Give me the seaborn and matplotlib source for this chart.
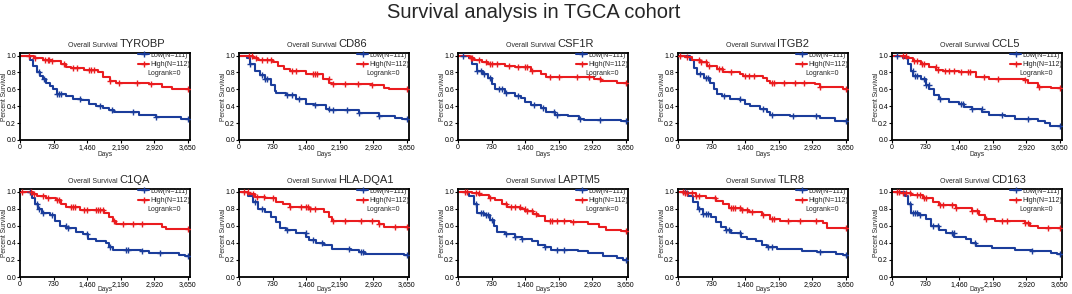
import numpy as np
import pandas as pd
import matplotlib
matplotlib.use("Agg")
import matplotlib.pyplot as plt
import seaborn as sns
from matplotlib.lines import Line2D

GENES = ["TYROBP", "CD86", "CSF1R", "ITGB2", "CCL5",
         "C1QA", "HLA-DQA1", "LAPTM5", "TLR8", "CD163"]
X_TICKS = [0, 730, 1460, 2190, 2920, 3650]
X_TICK_LABELS = ["0", "730", "1,460", "2,190", "2,920", "3,650"]
Y_TICKS = [0.0, 0.2, 0.4, 0.6, 0.8, 1.0]
Y_TICK_LABELS = ["0.0", "0.2", "0.4", "0.6", "0.8", "1.0"]
LOW_LABEL = "Low(N=111)"
HIGH_LABEL = "High(N=112)"
LOGRANK_LABEL = "Logrank=0"
MAIN_TITLE = "Survival analysis in TGCA cohort"
END_DAY = 3650

# event times (days) and survival after each event
LOW_T = {
    "TYROBP": [216, 290, 360, 430, 500, 576, 650, 720, 800, 1000, 1150, 1330, 1500, 1650, 1800, 1940, 2050, 2590, 2950, 3500],
    "CD86": [165, 237, 345, 452, 560, 704, 776, 812, 1027, 1243, 1458, 1638, 1890, 1962, 2610, 3040, 3400, 3540],
    "CSF1R": [230, 302, 410, 554, 662, 734, 806, 1022, 1238, 1382, 1454, 1598, 1814, 1922, 2102, 2390, 2642, 2750, 3540],
    "ITGB2": [267, 340, 412, 556, 701, 773, 846, 954, 1135, 1352, 1460, 1568, 1785, 1930, 2002, 2436, 3087, 3412, 3600],
    "CCL5": [237, 345, 417, 452, 632, 740, 812, 920, 1028, 1243, 1458, 1566, 1746, 1962, 2105, 2465, 2680, 3183, 3327, 3435],
    "C1QA": [252, 324, 396, 468, 648, 756, 864, 1008, 1224, 1368, 1476, 1656, 1872, 1944, 2016, 2628, 2808, 3456, 3600],
    "HLA-DQA1": [201, 309, 417, 560, 704, 812, 884, 1028, 1243, 1458, 1530, 1674, 1854, 2034, 2430, 2608, 2752, 3600],
    "LAPTM5": [237, 345, 417, 560, 704, 776, 848, 1028, 1243, 1387, 1602, 1746, 1890, 2034, 2608, 2824, 3148, 3471, 3600],
    "TLR8": [216, 323, 431, 539, 718, 826, 934, 1042, 1150, 1365, 1509, 1688, 1832, 1940, 2155, 2694, 3018, 3449, 3600],
    "CD163": [273, 345, 417, 596, 740, 848, 1027, 1171, 1351, 1602, 1710, 1818, 2177, 2680, 3040, 3471, 3600],
}
LOW_S = {
    "TYROBP": [0.95, 0.88, 0.80, 0.76, 0.72, 0.68, 0.64, 0.60, 0.55, 0.52, 0.49, 0.47, 0.43, 0.40, 0.38, 0.36, 0.33, 0.30, 0.27, 0.25],
    "CD86": [0.97, 0.90, 0.82, 0.77, 0.72, 0.65, 0.58, 0.56, 0.53, 0.48, 0.43, 0.41, 0.37, 0.35, 0.32, 0.29, 0.26, 0.25],
    "CSF1R": [0.97, 0.90, 0.82, 0.78, 0.73, 0.66, 0.60, 0.56, 0.52, 0.50, 0.45, 0.41, 0.38, 0.33, 0.30, 0.28, 0.25, 0.24, 0.22],
    "ITGB2": [0.95, 0.85, 0.78, 0.73, 0.68, 0.60, 0.55, 0.52, 0.49, 0.47, 0.43, 0.40, 0.37, 0.33, 0.30, 0.28, 0.26, 0.23, 0.22],
    "CCL5": [0.97, 0.90, 0.82, 0.76, 0.72, 0.65, 0.60, 0.53, 0.48, 0.45, 0.43, 0.39, 0.37, 0.33, 0.30, 0.28, 0.25, 0.23, 0.20, 0.17],
    "C1QA": [0.93, 0.86, 0.80, 0.75, 0.72, 0.66, 0.60, 0.57, 0.53, 0.50, 0.45, 0.42, 0.40, 0.35, 0.32, 0.30, 0.28, 0.26, 0.24],
    "HLA-DQA1": [0.95, 0.88, 0.80, 0.76, 0.70, 0.64, 0.57, 0.55, 0.51, 0.47, 0.43, 0.40, 0.37, 0.33, 0.32, 0.29, 0.27, 0.26],
    "LAPTM5": [0.95, 0.85, 0.75, 0.72, 0.67, 0.60, 0.53, 0.50, 0.47, 0.44, 0.42, 0.38, 0.35, 0.32, 0.31, 0.28, 0.25, 0.22, 0.20],
    "TLR8": [0.95, 0.88, 0.80, 0.74, 0.70, 0.64, 0.58, 0.55, 0.51, 0.47, 0.45, 0.42, 0.38, 0.35, 0.33, 0.31, 0.29, 0.27, 0.26],
    "CD163": [0.95, 0.85, 0.75, 0.72, 0.68, 0.60, 0.55, 0.52, 0.47, 0.44, 0.40, 0.36, 0.34, 0.32, 0.30, 0.28, 0.27],
}
HIGH_T = {
    "TYROBP": [250, 300, 500, 700, 900, 1000, 1100, 1400, 1700, 1800, 1950, 2100, 2800, 3100, 3300],
    "CD86": [310, 417, 740, 848, 990, 1100, 1458, 1818, 1962, 2034, 2900, 3150, 3255],
    "CSF1R": [266, 338, 518, 662, 1022, 1238, 1598, 1814, 1922, 2030, 2966, 3110, 3470],
    "ITGB2": [159, 304, 484, 629, 846, 990, 1063, 1352, 1424, 1858, 1930, 2002, 2978, 3087, 3593],
    "CCL5": [309, 452, 632, 812, 956, 1100, 1458, 1818, 2105, 2896, 2968, 3183, 3470],
    "C1QA": [288, 360, 576, 792, 900, 1008, 1296, 1836, 1944, 2016, 2088, 3096, 3168],
    "HLA-DQA1": [201, 345, 560, 812, 956, 1100, 1530, 1854, 1962, 2034, 3040, 3148],
    "LAPTM5": [309, 453, 668, 812, 956, 1064, 1351, 1459, 1638, 1746, 1890, 2465, 2824, 3076, 3220, 3550],
    "TLR8": [144, 395, 610, 826, 970, 1114, 1365, 1544, 1832, 2012, 2227, 3162, 3234],
    "CD163": [165, 417, 668, 884, 1027, 1387, 1746, 1890, 2034, 2249, 2896, 3004, 3183],
}
HIGH_S = {
    "TYROBP": [0.99, 0.97, 0.95, 0.93, 0.90, 0.87, 0.85, 0.83, 0.80, 0.75, 0.70, 0.68, 0.66, 0.63, 0.60],
    "CD86": [0.97, 0.95, 0.92, 0.88, 0.84, 0.82, 0.78, 0.72, 0.67, 0.66, 0.65, 0.62, 0.60],
    "CSF1R": [0.97, 0.95, 0.92, 0.90, 0.88, 0.86, 0.82, 0.78, 0.74, 0.74, 0.72, 0.70, 0.68],
    "ITGB2": [0.98, 0.95, 0.92, 0.88, 0.84, 0.80, 0.80, 0.78, 0.76, 0.73, 0.70, 0.67, 0.66, 0.63, 0.60],
    "CCL5": [0.97, 0.93, 0.90, 0.86, 0.83, 0.82, 0.80, 0.75, 0.72, 0.71, 0.67, 0.63, 0.61],
    "C1QA": [0.97, 0.95, 0.93, 0.90, 0.86, 0.82, 0.78, 0.75, 0.70, 0.65, 0.62, 0.58, 0.56],
    "HLA-DQA1": [0.97, 0.94, 0.92, 0.88, 0.85, 0.82, 0.80, 0.76, 0.70, 0.65, 0.62, 0.58],
    "LAPTM5": [0.98, 0.96, 0.93, 0.90, 0.86, 0.82, 0.80, 0.77, 0.74, 0.71, 0.66, 0.64, 0.62, 0.58, 0.55, 0.54],
    "TLR8": [0.98, 0.95, 0.93, 0.89, 0.85, 0.81, 0.79, 0.76, 0.72, 0.68, 0.65, 0.63, 0.57],
    "CD163": [0.98, 0.96, 0.92, 0.88, 0.84, 0.81, 0.77, 0.72, 0.68, 0.65, 0.63, 0.60, 0.57],
}
# censoring times (days)
LOW_C = {
    "TYROBP": [420, 520, 800, 850, 900, 1300, 1750, 2000, 2450, 2950, 3650],
    "CD86": [250, 500, 560, 620, 1050, 1150, 1300, 1650, 1950, 2050, 2350, 2620, 3050, 3650],
    "CSF1R": [100, 420, 500, 560, 700, 900, 950, 1050, 1300, 1650, 1850, 2100, 2150, 2650, 3100, 3650],
    "ITGB2": [480, 600, 650, 1000, 1350, 1850, 2050, 2500, 3000, 3650],
    "CCL5": [100, 450, 500, 550, 700, 750, 800, 1050, 1500, 1550, 1750, 1950, 2400, 2950, 3650],
    "C1QA": [220, 380, 420, 500, 700, 1000, 1050, 1450, 1950, 2300, 2350, 2650, 3050, 3650],
    "HLA-DQA1": [350, 500, 1050, 1450, 1600, 1800, 2400, 2650, 2700, 3650],
    "LAPTM5": [400, 500, 550, 600, 650, 750, 1050, 1250, 1400, 1900, 2150, 2300, 3650],
    "TLR8": [150, 450, 550, 600, 650, 1050, 1100, 1350, 1950, 2050, 3100, 3650],
    "CD163": [400, 450, 500, 550, 600, 900, 1000, 1300, 1350, 1800, 3050, 3650],
}
HIGH_C = {
    "TYROBP": [200, 320, 550, 600, 640, 700, 950, 1150, 1250, 1500, 1550, 1600, 1950, 2150, 2550, 2850, 3650],
    "CD86": [220, 280, 380, 500, 600, 700, 1150, 1250, 1600, 1650, 1700, 1950, 2050, 2300, 2600, 2900, 3650],
    "CSF1R": [280, 300, 450, 600, 700, 750, 850, 1100, 1300, 1450, 1500, 1600, 2000, 2200, 2600, 2850, 3100, 3650],
    "ITGB2": [50, 200, 450, 500, 620, 680, 900, 950, 1150, 1450, 1550, 1650, 2050, 2100, 2300, 2550, 2750, 3100, 3650],
    "CCL5": [250, 300, 480, 550, 650, 700, 950, 1000, 1150, 1250, 1350, 1500, 1650, 1700, 2000, 2300, 2900, 3200, 3650],
    "C1QA": [50, 250, 300, 500, 600, 800, 850, 1100, 1150, 1200, 1400, 1450, 1650, 1700, 1750, 1800, 2050, 2250, 2450, 2650, 3650],
    "HLA-DQA1": [100, 200, 300, 400, 550, 750, 1100, 1350, 1450, 1500, 1550, 1650, 2050, 2300, 2650, 2900, 3050, 3400, 3650],
    "LAPTM5": [150, 200, 400, 450, 700, 1050, 1150, 1250, 1350, 1450, 1500, 1600, 1700, 2000, 2050, 2150, 2300, 2500, 3650],
    "TLR8": [100, 150, 200, 300, 400, 450, 800, 1150, 1200, 1250, 1350, 1400, 1500, 1600, 1850, 2050, 2100, 2400, 2650, 3000, 3650],
    "CD163": [100, 150, 250, 300, 400, 550, 600, 700, 750, 1050, 1100, 1300, 1400, 1750, 1850, 2050, 2400, 2500, 2900, 2950, 3400, 3650],
}

BLUE = "#1b3d9b"
RED = "#ea1c1f"

sns.set_theme(style="ticks")
plt.rcParams["font.family"] = ["Liberation Sans", "DejaVu Sans"]

W, H = 1072, 294
fig = plt.figure(figsize=(W / 100, H / 100), dpi=100)
fig.patch.set_facecolor("white")

lefts = [20, 239, 458, 678, 892]
row_tb = [(53, 140), (189, 277)]
xlabel_y = [-0.165, -0.14]
ax_w = 170


def step_frame(t, s):
    x = [0] + list(t) + [END_DAY]
    y = [1.0] + list(s) + [s[-1]]
    return pd.DataFrame({"day": x, "surv": y})


def surv_at(t, s, c):
    idx = np.searchsorted(np.asarray(t), np.asarray(c), side="right")
    vals = np.concatenate([[1.0], np.asarray(s)])
    return vals[idx]


for i, gene in enumerate(GENES):
    r, col = divmod(i, 5)
    top, bot = row_tb[r]
    ax = fig.add_axes([lefts[col] / W, 1 - bot / H, ax_w / W, (bot - top) / H])
    for t, s, c, colr in [(LOW_T[gene], LOW_S[gene], LOW_C[gene], BLUE),
                          (HIGH_T[gene], HIGH_S[gene], HIGH_C[gene], RED)]:
        df = step_frame(t, s)
        sns.lineplot(data=df, x="day", y="surv", drawstyle="steps-post",
                     color=colr, lw=1.5, ax=ax, estimator=None, sort=False)
        cdf = pd.DataFrame({"day": c, "surv": surv_at(t, s, c)})
        sns.scatterplot(data=cdf, x="day", y="surv", marker="+", s=16,
                        color=colr, linewidth=1.0, ax=ax, zorder=3)
    ax.set_xlim(0, 3700)
    ax.set_ylim(0, 1.03)
    ax.set_xticks(X_TICKS)
    ax.set_xticklabels(X_TICK_LABELS)
    ax.set_yticks(Y_TICKS)
    ax.set_yticklabels(Y_TICK_LABELS)
    ax.tick_params(labelsize=5, length=2, width=0.8, pad=0.8, direction="out",
                   colors="black")
    for sp in ax.spines.values():
        sp.set_linewidth(1.3)
        sp.set_color("black")
    ax.set_xlabel("Days", fontsize=4.8, va="center")
    ax.xaxis.set_label_coords(0.5, xlabel_y[r])
    ax.set_ylabel("Percent Survival", fontsize=4.8, va="center")
    ax.yaxis.set_label_coords(-0.092, 0.5)

    handles = [Line2D([], [], color=BLUE, lw=1.5, marker="+", ms=4, mew=1),
               Line2D([], [], color=RED, lw=1.5, marker="+", ms=4, mew=1)]
    ax.legend(handles, [LOW_LABEL, HIGH_LABEL], loc="upper right",
              bbox_to_anchor=(1.0, 1.015), frameon=False, fontsize=5,
              handlelength=1.6, handletextpad=0.1, labelspacing=0.35,
              borderpad=0, borderaxespad=0)
    ax.text(0.75, 0.77, LOGRANK_LABEL, transform=ax.transAxes, fontsize=5,
            va="center", ha="left")

    ax.text(0.575, 1.07, "Overall Survival", transform=ax.transAxes,
            fontsize=5, ha="right", va="baseline")
    ax.text(0.585, 1.07, gene, transform=ax.transAxes,
            fontsize=8, ha="left", va="baseline")

fig.text(0.498, 1 - 12 / H, MAIN_TITLE, ha="center", va="center", fontsize=14.5)

fig.savefig("out.png", dpi=100)
